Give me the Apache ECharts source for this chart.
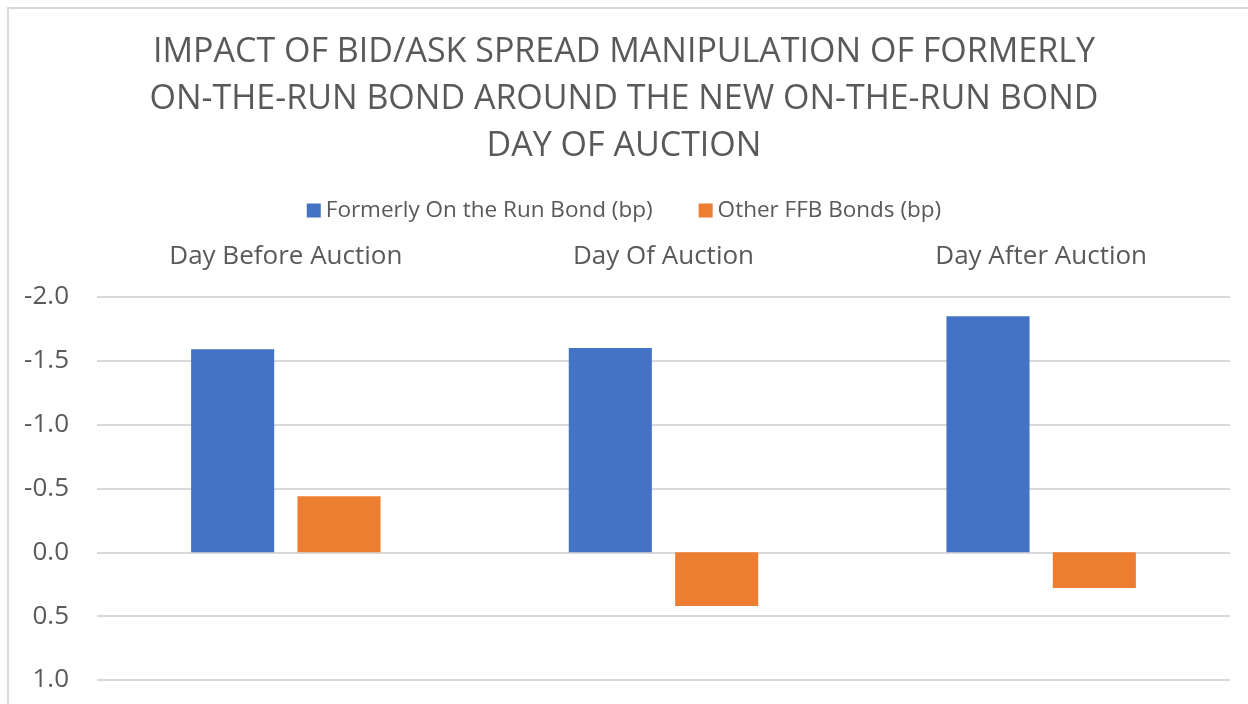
<html>

<head>
    <meta charset="utf-8">
    <title>Bid/Ask spread manipulation</title>
    <script src="https://cdn.jsdelivr.net/npm/echarts@6/dist/echarts.min.js"></script>
    <style>
        body { margin: 0; background: white; }
        #main { width: 1248px; height: 704px; }
    </style>
</head>

<body>
    <div id='main'></div>
    <script>
        // data
        var categories = ['Day Before Auction', 'Day Of Auction', 'Day After Auction']
        var formerlyOnRun = [-1.59, -1.60, -1.85]
        var otherFFB = [-0.44, 0.42, 0.28]
        var seriesNames = ['Formerly On the Run Bond (bp)', 'Other FFB Bonds (bp)']

        var FONT = '"Open Sans", "Noto Sans", sans-serif'
        var TEXT = '#595959'

        var myChart = echarts.init(document.getElementById('main'))
        var options = {
            backgroundColor: 'white',
            animation: false,
            textStyle: { fontFamily: FONT, color: TEXT },
            title: {
                text: 'IMPACT OF BID/ASK SPREAD MANIPULATION OF FORMERLY\nON-THE-RUN BOND AROUND THE NEW ON-THE-RUN BOND\nDAY OF AUCTION',
                left: 'center',
                top: 24,
                textStyle: {
                    fontFamily: FONT,
                    fontSize: 34,
                    fontWeight: 'normal',
                    color: TEXT,
                    lineHeight: 47,
                },
            },
            legend: {
                top: 194,
                left: 'center',
                itemWidth: 14,
                itemHeight: 14,
                itemGap: 46,
                icon: 'rect',
                textStyle: { fontFamily: FONT, fontSize: 22.5, color: TEXT },
                data: seriesNames,
            },
            grid: { left: 97, right: 18, top: 297, bottom: 24, containLabel: false },
            xAxis: {
                type: 'category',
                position: 'top',
                data: categories,
                axisLine: { show: false },
                axisTick: { show: false },
                axisLabel: { fontFamily: FONT, fontSize: 26, color: TEXT, margin: 27 },
            },
            yAxis: {
                type: 'value',
                inverse: true,
                min: -2,
                max: 1,
                interval: 0.5,
                axisLine: { show: false },
                axisTick: { show: false },
                axisLabel: {
                    fontFamily: FONT, fontSize: 26, color: TEXT, margin: 28,
                    formatter: v => v.toFixed(1),
                },
                splitLine: { lineStyle: { color: '#d9d9d9', width: 2 } },
            },
            graphic: [{
                type: 'polyline',
                silent: true,
                shape: { points: [[8, 704], [8, 8], [1248, 8]] },
                style: { stroke: '#d9d9d9', lineWidth: 2, fill: null },
            }],
            series: [{
                name: seriesNames[0],
                type: 'bar',
                data: formerlyOnRun,
                color: '#4472C4',
                barWidth: '22%',
                barGap: '28%',
            },
            {
                name: seriesNames[1],
                type: 'bar',
                data: otherFFB,
                color: '#ED7D31',
                barWidth: '22%',
                barGap: '28%',
            }]
        }
        myChart.setOption(options)
    </script>
</body>

</html>
